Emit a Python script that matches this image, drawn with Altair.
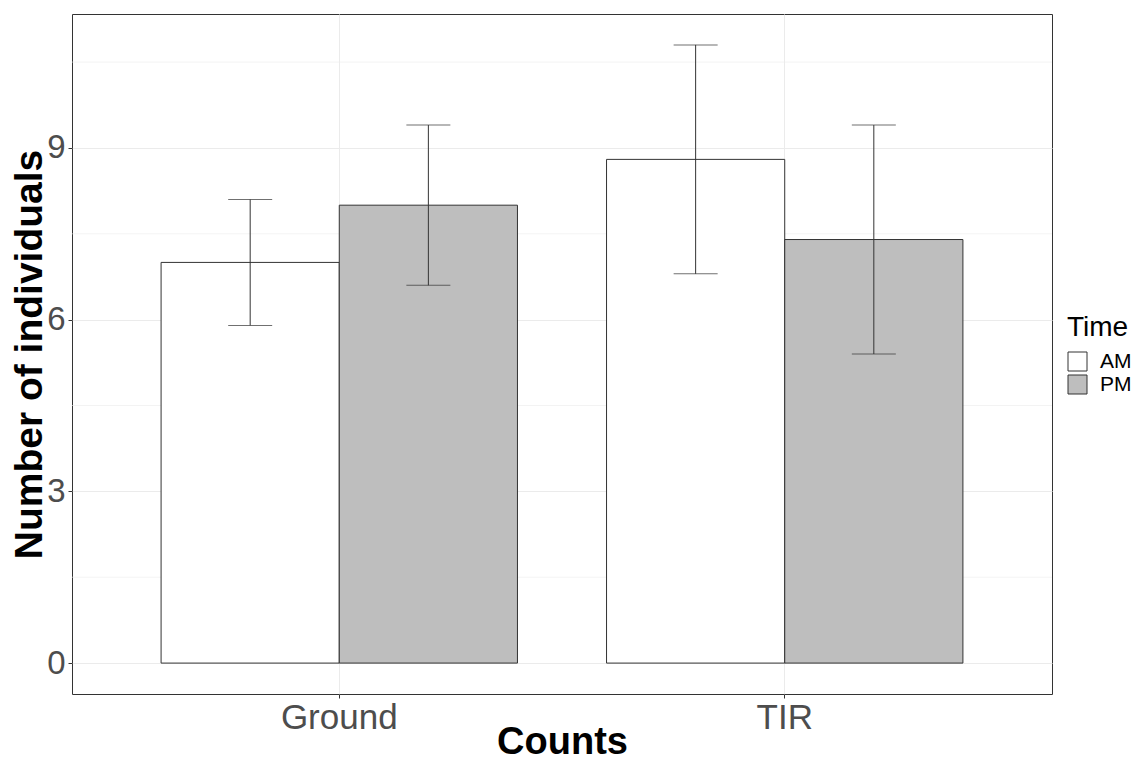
import altair as alt
import pandas as pd

# Data
counts = ["Ground", "Ground", "TIR", "TIR"]
times = ["AM", "PM", "AM", "PM"]
means = [7.0, 8.0, 8.8, 7.4]
lower = [5.9, 6.6, 6.8, 5.4]
upper = [8.1, 9.4, 10.8, 9.4]
y_ticks = [0, 3, 6, 9]
minor_grid = [1.5, 4.5, 7.5, 10.5]
time_levels = ["AM", "PM"]
time_colors = ["#ffffff", "#bebebe"]

df = pd.DataFrame({"Counts": counts, "Time": times, "mean": means, "lo": lower, "hi": upper})
grid_df = pd.DataFrame({"g": minor_grid})

FONT = "Liberation Sans, Arial, sans-serif"

yscale = alt.Scale(domain=[-0.54, 11.34], nice=False, zero=False)
xscale = alt.Scale(paddingInner=0.2, paddingOuter=0.2)

x_enc = alt.X(
    "Counts:N",
    scale=xscale,
    sort=["Ground", "TIR"],
    axis=alt.Axis(
        title="Counts",
        labelAngle=0,
        bandPosition=0.5,
        grid=True,
        labelFontSize=35,
        labelPadding=2,
        titleY=59,
        titleFontSize=38,
        titleBaseline="alphabetic",
    ),
)
xoff_enc = alt.XOffset("Time:N", sort=time_levels, scale=alt.Scale(paddingInner=0, paddingOuter=0))

minor = alt.Chart(grid_df).mark_rule(color="#ebebeb", strokeWidth=0.6).encode(
    y=alt.Y("g:Q", scale=yscale)
)

bars = alt.Chart(df).mark_bar(stroke="#333333", strokeWidth=1).encode(
    x=x_enc,
    xOffset=xoff_enc,
    y=alt.Y(
        "mean:Q",
        scale=yscale,
        stack=None,
        axis=alt.Axis(
            title="Number of individuals",
            values=y_ticks,
            format="d",
            labelFontSize=33,
            labelPadding=3,
            titleX=-31,
            titleFontSize=39,
            titleBaseline="alphabetic",
        ),
    ),
    y2=alt.datum(0),
    fill=alt.Fill(
        "Time:N",
        scale=alt.Scale(domain=time_levels, range=time_colors),
        legend=alt.Legend(
            title="Time",
            orient="none",
            legendX=995,
            legendY=300,
            symbolType="square",
            symbolSize=361,
            symbolStrokeColor="#333333",
            symbolStrokeWidth=1,
            symbolOpacity=1,
            titleFontSize=28,
            titleFontWeight="normal",
            titleColor="#000000",
            titleFont=FONT,
            titlePadding=9,
            labelFontSize=21,
            labelColor="#000000",
            labelFont=FONT,
            labelOffset=12,
            rowPadding=0,
            padding=0,
        ),
    ),
)

err = alt.Chart(df).mark_rule(color="#333333", strokeWidth=1).encode(
    x=alt.X("Counts:N", sort=["Ground", "TIR"]),
    xOffset=xoff_enc,
    y=alt.Y("lo:Q", scale=yscale),
    y2="hi:Q",
)

cap_hi = alt.Chart(df).mark_tick(color="#333333", thickness=1, size=44, orient="horizontal").encode(
    x=alt.X("Counts:N", sort=["Ground", "TIR"]),
    xOffset=xoff_enc,
    y=alt.Y("hi:Q", scale=yscale),
)
cap_lo = alt.Chart(df).mark_tick(color="#333333", thickness=1, size=44, orient="horizontal").encode(
    x=alt.X("Counts:N", sort=["Ground", "TIR"]),
    xOffset=xoff_enc,
    y=alt.Y("lo:Q", scale=yscale),
)

chart = (
    alt.layer(minor, bars, err, cap_hi, cap_lo)
    .properties(
        width=980,
        height=680,
        autosize=alt.AutoSizeParams(type="none"),
        padding={"left": 64, "top": 6, "right": 82, "bottom": 61},
    )
    .configure_view(stroke="#333333", strokeWidth=1)
    .configure_axis(
        domain=False,
        gridColor="#ebebeb",
        gridWidth=1,
        tickColor="#333333",
        tickSize=4,
        labelColor="#4d4d4d",
        labelFont=FONT,
        titleFont=FONT,
        titleFontSize=40,
        titleFontWeight="bold",
        titleColor="#000000",
    )
)

chart.save("out.html", embed_options={"renderer": "svg", "actions": False})
